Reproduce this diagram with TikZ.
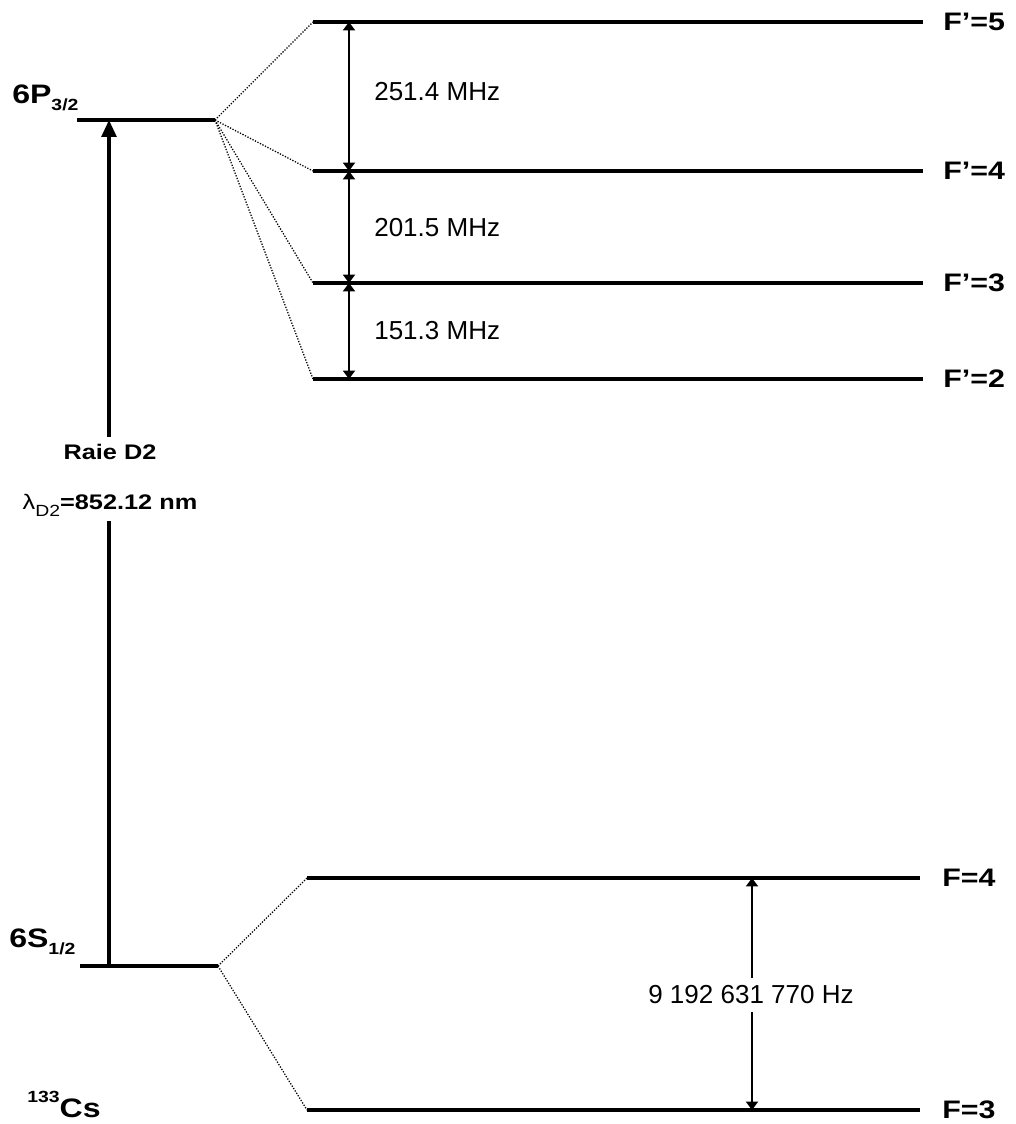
\documentclass[tikz,border=0pt]{standalone}
\usepackage{fontspec}
\setmainfont{Liberation Sans}
\newfontfamily\lvlfont[FakeStretch=1.2]{Liberation Sans}
\usetikzlibrary{arrows.meta}
\newcommand{\lsub}[1]{\raisebox{-5pt}{\fontsize{11.5}{12}\selectfont #1}}
\newcommand{\lsup}[1]{\raisebox{10pt}{\fontsize{11.5}{12}\selectfont #1}}
\tikzset{hfh/.tip={Triangle[length=6pt,width=8.5pt]}}

\begin{document}
\begin{tikzpicture}[x=0.025cm,y=-0.025cm,
  level/.style={line width=2.3pt},
  split/.style={line width=0.9pt,dash pattern=on 0.9pt off 1.1pt},
  gap/.style={line width=1.9pt},
  lvl/.style={inner sep=0pt,font=\lvlfont\bfseries\fontsize{18}{20}\selectfont},
  big/.style={inner sep=0pt,font=\lvlfont\bfseries\fontsize{19}{22}\selectfont},
  freq/.style={inner sep=0pt,font=\fontsize{18.5}{22}\selectfont}]
  \useasboundingbox (0,0) rectangle (1015,1124);

  % Fine levels
  \coordinate (p32w) at (77,120);
  \coordinate (p32e) at (215,120);
  \coordinate (s12w) at (80,966);
  \coordinate (s12e) at (218,966);
  \draw[level] (p32w) -- (p32e);
  \draw[level] (s12w) -- (s12e);
  \node[big,anchor=base west] (p32lbl) at (12,103) {6P\lsub{3/2}};
  \node[big,anchor=base west] (s12lbl) at (9,947) {6S\lsub{1/2}};
  \node[big,anchor=base west] (cs) at (27,1117) {\lsup{133}Cs};

  % Hyperfine levels of 6P3/2
  \foreach \f/\y in {5/22,4/171,3/283,2/379}{
    \coordinate (pf\f w) at (313,\y);
    \coordinate (pf\f e) at (923,\y);
    \draw[level] (pf\f w) -- (pf\f e);
    \draw[split] (p32e) -- (pf\f w);
    \node[lvl,anchor=west] (pf\f lbl) at (943,\y) {F’=\f};
  }

  % Hyperfine levels of 6S1/2
  \foreach \f/\y in {4/878,3/1110}{
    \coordinate (sf\f w) at (307,\y);
    \coordinate (sf\f e) at (920,\y);
    \draw[level] (sf\f w) -- (sf\f e);
    \draw[split] (s12e) -- (sf\f w);
    \node[lvl,anchor=west] (sf\f lbl) at (942,\y) {F=\f};
  }

  % Splittings of 6P3/2
  \coordinate (gx) at (349,0);
  \draw[gap,hfh-hfh] (pf5w -| gx) -- (pf4w -| gx);
  \draw[gap,hfh-hfh] (pf4w -| gx) -- (pf3w -| gx);
  \draw[gap,hfh-hfh] (pf3w -| gx) -- (pf2w -| gx);
  \node[freq,anchor=west] (d54) at (374,92) {251.4 MHz};
  \node[freq,anchor=west] (d43) at (374,228) {201.5 MHz};
  \node[freq,anchor=west] (d32) at (374,331) {151.3 MHz};

  % Clock transition
  \coordinate (cx) at (752,0);
  \node[freq,inner ysep=5pt] (clock) at (751,995) {9 192 631 770 Hz};
  \draw[gap,-hfh] (clock.north -| cx) -- (sf4w -| cx);
  \draw[gap,-hfh] (clock.south -| cx) -- (sf3w -| cx);

  % D2 line
  \coordinate (ax) at (109,0);
  \node[lvl,inner ysep=5pt,font=\lvlfont\bfseries\fontsize{15}{18}\selectfont] (raie) at (110,452) {Raie D2};
  \node[lvl,inner ysep=3pt,font=\lvlfont\bfseries\fontsize{15}{18}\selectfont] (lam) at (110,505)
    {{\mdseries λ\lsub{D2}}=852.12 nm};
  \draw[line width=2.3pt] (s12w -| ax) -- (lam.south -| ax);
  \draw[line width=2.3pt,-{Triangle[length=12pt,width=10.5pt]}] (raie.north -| ax) -- (p32w -| ax);
\end{tikzpicture}
\end{document}
